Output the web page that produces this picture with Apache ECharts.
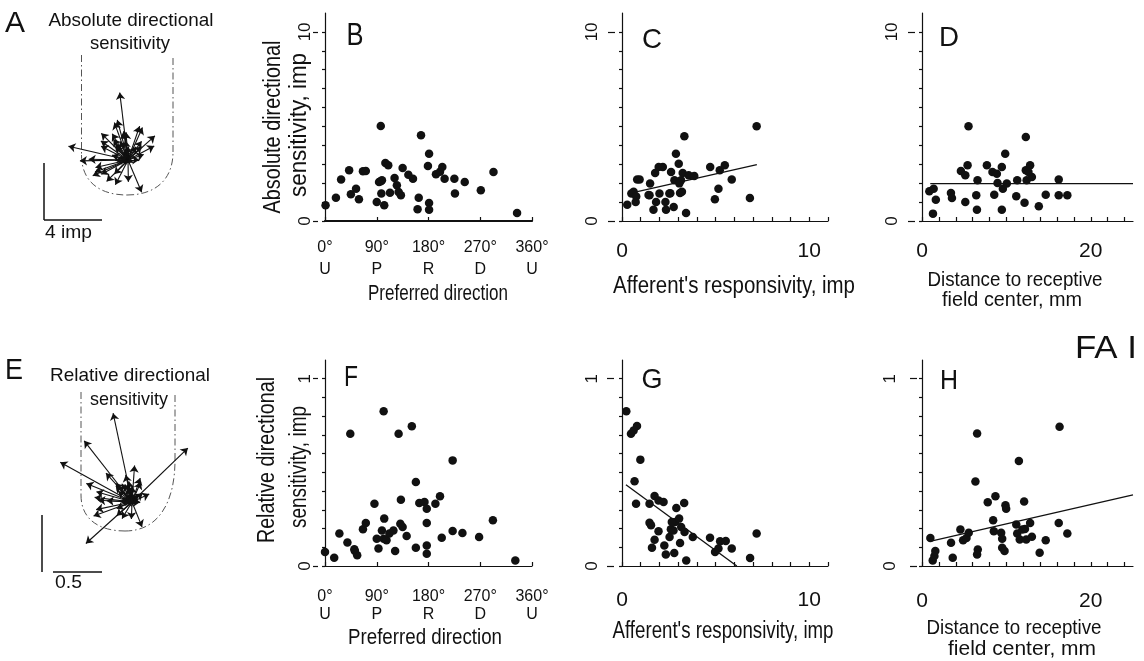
<!DOCTYPE html>
<html><head><meta charset="utf-8">
<script src="https://cdn.jsdelivr.net/npm/echarts@6/dist/echarts.min.js"></script>
<style>html,body{margin:0;padding:0;background:#fff}#c{width:1144px;height:661px}</style>
</head><body><div id="c"></div>
<script>
// ---------- data ----------
// B / A : preferred direction (deg) and absolute directional sensitivity (imp)
const bDir  = [1,19,28,42,45,54,59,66,71,90,94,97,97,98,99,103,105,110,113,121,125,128,132,135,145,153,161,163,167,179,181,181,181,193,200,204,208,225,226,243,271,293,334];
const bSens = [0.83,1.23,2.2,2.68,1.41,1.71,1.15,2.63,2.65,1.0,2.06,2.1,5.03,1.45,2.15,0.83,3.07,2.95,1.5,2.27,1.89,1.53,1.36,2.8,2.45,2.24,0.62,1.23,4.53,2.91,3.56,0.95,0.6,2.47,2.6,2.86,2.24,2.24,1.45,2.06,1.62,2.59,0.42];
// C : afferent's responsivity vs absolute directional sensitivity
const cResp = [0.28,0.5,0.73,0.81,0.94,1.5,1.47,1.68,1.77,1.96,2.0,1.82,2.35,2.32,2.53,2.62,2.76,2.88,3.03,3.1,3.15,3.33,3.42,3.24,3.56,3.86,4.71,4.96,5.15,5.22,5.49,5.86,6.83,7.19,2.8,2.18,0.62,0.76,1.42,2.58,3.06,3.2];
const cSens = [0.86,1.45,1.0,2.2,2.2,1.98,1.36,0.6,2.54,2.86,1.45,1.0,0.6,1.0,1.45,2.59,0.74,3.56,3.03,1.48,2.15,4.48,0.42,2.54,2.42,2.38,2.86,1.15,1.71,2.68,2.95,2.19,1.22,5.01,2.15,2.86,1.55,1.29,1.38,1.47,1.99,1.55];
const cFit  = [[0.35,1.45],[7.2,2.98]];
// D : distance to receptive field center vs absolute directional sensitivity
const dDist = [0.87,1.38,1.3,1.64,3.43,3.55,4.61,5.13,5.4,5.13,5.51,6.43,6.51,6.58,7.69,8.35,8.56,8.87,9.46,9.46,8.95,9.58,9.86,10.05,11.17,11.28,12.15,12.3,12.3,12.4,12.81,13.02,13.84,14.66,16.2,16.2,17.22,12.61];
const dSens = [1.57,1.71,0.39,1.13,1.48,1.22,2.65,2.42,2.95,1.0,5.01,1.36,0.6,2.15,2.95,2.59,1.39,2.5,2.86,0.6,2.01,1.71,3.56,1.98,1.31,2.15,0.97,4.44,2.68,2.15,2.95,2.33,0.78,1.39,2.2,1.36,1.36,2.59];
const dFit  = [[0.98,1.98],[25,1.98]];
// F / E : preferred direction vs relative directional sensitivity
const fDir  = [0,16,25,39,44,52,56,51,66,71,86,90,93,99,102,103,102,107,112,122,119,128,131,132,135,142,151,158,158,164,173,177,177,177,177,192,200,203,222,222,239,268,292,331];
const fSens = [0.075,0.044,0.173,0.125,0.706,0.08,0.057,0.089,0.196,0.23,0.333,0.146,0.093,0.19,0.826,0.253,0.146,0.137,0.173,0.08,0.19,0.706,0.226,0.354,0.208,0.16,0.746,0.448,0.098,0.336,0.342,0.306,0.23,0.11,0.066,0.333,0.372,0.151,0.564,0.187,0.176,0.155,0.244,0.03];
// G
const gResp = [0.23,0.48,0.8,0.62,0.98,0.67,0.75,1.47,1.74,1.95,2.22,1.47,1.55,1.95,1.74,1.6,2.34,2.79,2.26,2.54,2.61,2.84,2.9,3.05,3.16,3.1,3.32,3.34,3.43,3.78,4.7,4.97,5.15,5.24,5.54,5.86,6.84,7.19,2.75,2.66];
const gSens = [0.826,0.706,0.747,0.724,0.568,0.452,0.333,0.333,0.374,0.35,0.342,0.231,0.217,0.185,0.14,0.098,0.062,0.069,0.11,0.155,0.196,0.235,0.31,0.253,0.208,0.123,0.336,0.181,0.03,0.155,0.151,0.075,0.093,0.132,0.133,0.093,0.043,0.173,0.19,0.235];
const gFit  = [[0.21,0.434],[6.13,0]];
// H
const hDist = [0.99,1.27,1.47,1.58,3.44,3.64,4.55,4.87,5.27,5.54,6.33,6.53,6.61,6.53,7.79,8.7,8.43,8.51,9.38,9.5,9.5,9.78,9.89,9.97,11.17,11.28,11.48,11.58,12.1,12.2,12.35,12.81,13.02,13.94,14.66,16.2,16.3,17.22,11.89];
const hSens = [0.15,0.03,0.053,0.08,0.124,0.044,0.195,0.138,0.15,0.177,0.451,0.708,0.088,0.062,0.34,0.372,0.244,0.186,0.177,0.145,0.097,0.08,0.324,0.306,0.221,0.173,0.561,0.142,0.345,0.198,0.142,0.23,0.156,0.071,0.138,0.23,0.743,0.173,0.195];
const hFit  = [[1.07,0.133],[25,0.38]];
// ticks and tick labels
const topYTicks  = [0,1,2,3,4,5,6,7,8,9,10];
const topYLabels = [0,10];
const botYTicks  = [0,0.1,0.2,0.3,0.4,0.5,0.6,0.7,0.8,0.9,1.0];
const botYLabels = [0,1];
const dirTicks   = [0,90,180,270,360];
const dirDegLabels = ['0°','90°','180°','270°','360°'];
const dirLetters   = ['U','P','R','D','U'];
const respTicks  = [0,1,2,3,4,5,6,7,8,9,10,11];
const respLabels = [0,10];
const distTicks  = [0,2,4,6,8,10,12,14,16,18,20,22,24];
const distLabels = [0,20];

// ---------- chart ----------
const INK = '#111';
const SANS = '"Liberation Sans", Arial, sans-serif';
const NARROW = '"Liberation Sans Narrow", "Liberation Sans", Arial, sans-serif';

const grids = [
  {left:325, top:13,  width:207, height:208},  // B
  {left:622, top:13,  width:206, height:208},  // C
  {left:922, top:13,  width:211, height:208},  // D
  {left:325, top:360, width:207, height:206},  // F
  {left:622, top:360, width:206, height:206},  // G
  {left:922, top:360, width:211, height:206},  // H
  {left:47,  top:79,  width:162, height:162},  // A (vectors)
  {left:0,   top:370, width:264, height:264}   // E (vectors)
];

function xAx(gi, min, max, ticks, labels, fmt, o) {
  return {gridIndex:gi, type:'value', min, max, offset:o.offset,
    axisLine:{lineStyle:{color:INK, width:o.lw || 1.2}},
    axisTick:{inside:true, length:4, customValues:ticks, lineStyle:{color:INK, width:1.2}},
    axisLabel:{customValues:labels, formatter:fmt, margin:o.margin, fontSize:o.fs, lineHeight:o.lh || o.fs,
      fontFamily:NARROW, color:INK},
    splitLine:{show:false}};
}
function yAxPair(gi, max, ticks, labels, o) {
  return [
    {gridIndex:gi, type:'value', min:0, max, offset:o.offset, position:'left',
      axisLine:{lineStyle:{color:INK, width:1.2}},
      axisTick:{length:3, customValues:ticks, lineStyle:{color:INK, width:1.2}},
      axisLabel:{show:false}, splitLine:{show:false}},
    {gridIndex:gi, type:'value', min:0, max, offset:o.offset, position:'left',
      axisLine:{show:false},
      axisTick:{length:o.major || 6, customValues:labels, lineStyle:{color:INK, width:1.2}},
      axisLabel:{customValues:labels, rotate:90, margin:o.margin, fontSize:o.fs, fontFamily:NARROW, color:INK,
        formatter: v => String(Math.round(v))},
      splitLine:{show:false}}
  ];
}
const dirFmt = v => { const i = Math.round(v / 90); return dirDegLabels[i] + '\n' + dirLetters[i]; };
const numFmt = v => String(Math.round(v));

const xAxes = [
  xAx(0, 0, 360, dirTicks, dirTicks, dirFmt, {offset:6, margin:10, fs:16, lh:22, lw:2.2}),
  xAx(1, 0, 11, respTicks, respLabels, numFmt, {offset:7, margin:13, fs:21}),
  xAx(2, 0, 25, distTicks, distLabels, numFmt, {offset:7, margin:13, fs:21}),
  xAx(3, 0, 360, dirTicks, dirTicks, dirFmt, {offset:7, margin:15, fs:16, lh:18}),
  xAx(4, 0, 11, respTicks, respLabels, numFmt, {offset:7, margin:17, fs:21}),
  xAx(5, 0, 25, distTicks, distLabels, numFmt, {offset:8, margin:17, fs:21}),
  {gridIndex:6, type:'value', min:-6, max:6, show:false},
  {gridIndex:7, type:'value', min:-1.2, max:1.2, show:false}
];
const yAxes = [].concat(
  yAxPair(0, 11, topYTicks, topYLabels, {offset:7, margin:4, fs:17, major:5}),
  yAxPair(1, 11, topYTicks, topYLabels, {offset:7, margin:14, fs:17, major:7}),
  yAxPair(2, 11, topYTicks, topYLabels, {offset:7, margin:14, fs:17, major:7}),
  yAxPair(3, 1.1, botYTicks, botYLabels, {offset:7, margin:4, fs:17, major:5}),
  yAxPair(4, 1.1, botYTicks, botYLabels, {offset:8, margin:13, fs:17, major:7}),
  yAxPair(5, 1.1, botYTicks, botYLabels, {offset:5, margin:18, fs:17, major:7}),
  [{gridIndex:6, type:'value', min:-6, max:6, show:false},
   {gridIndex:7, type:'value', min:-1.2, max:1.2, show:false}]
);

const zip = (a, b) => a.map((v, i) => [v, b[i]]);
function scatter(gi, xs, ys) {
  return {type:'scatter', xAxisIndex:gi, yAxisIndex:gi * 2, data:zip(xs, ys), symbolSize:8.5,
    itemStyle:{color:INK, opacity:1}, silent:true, z:3};
}
function fit(gi, pts) {
  return {type:'line', xAxisIndex:gi, yAxisIndex:gi * 2, data:pts, showSymbol:false, symbol:'none',
    lineStyle:{color:INK, width:1.3}, silent:true, z:2};
}
function arrows(xi, yi, dirs, mags) {
  return {type:'lines', coordinateSystem:'cartesian2d', xAxisIndex:xi, yAxisIndex:yi,
    symbol:['none','arrow'], symbolSize:7, clip:false, silent:true,
    lineStyle:{color:INK, width:1.1, opacity:1, curveness:0},
    data: dirs.map((d, i) => {
      const r = mags[i], t = d * Math.PI / 180;
      return {coords:[[0, 0], [r * Math.cos(t), r * Math.sin(t)]]};
    })};
}

// text helper: fit to measured width via scaleX
const mctx = document.createElement('canvas').getContext('2d');
function txt(s, cx, cy, size, w, rot) {
  let sx = 1;
  if (w) { mctx.font = size + 'px "Liberation Sans", Arial'; sx = w / mctx.measureText(s).width; }
  return {type:'text', x:cx, y:cy, rotation:rot || 0, scaleX:sx, silent:true,
    style:{text:s, fontSize:size, fontFamily:SANS, fill:INK, align:'center', verticalAlign:'middle'}};
}
const R = Math.PI / 2;
const texts = [
  txt('A', 15, 24, 30, 20),
  txt('Absolute directional', 131, 21, 19, 165),
  txt('sensitivity', 130, 44, 19, 80),
  txt('4 imp', 68.5, 233, 19, 47),
  txt('B', 355, 36.5, 32, 17),
  txt('C', 652, 40, 28, 20),
  txt('D', 949, 38, 28, 20),
  txt('Absolute directional', 274, 127, 23, 173, R),
  txt('sensitivity, imp', 300, 125, 23, 144, R),
  txt('Preferred direction', 438, 294, 22, 140),
  txt("Afferent's responsivity, imp", 734, 287, 23, 242),
  txt('Distance to receptive', 1015, 280, 21, 175),
  txt('field center, mm', 1012, 300, 21, 140),
  txt('E', 14, 371, 30, 18),
  txt('Relative directional', 130, 376, 19, 160),
  txt('sensitivity', 129, 400, 19, 78),
  txt('0.5', 68.5, 583.5, 18, 27),
  txt('F', 351, 377.5, 30, 14),
  txt('Relative directional', 268, 460, 23, 166, R),
  txt('sensitivity, imp', 300, 467, 23, 122, R),
  txt('Preferred direction', 425, 638, 22, 154),
  txt('G', 652, 380, 28, 21),
  txt("Afferent's responsivity, imp", 723, 632, 23, 221),
  txt('H', 949, 381, 28, 18),
  txt('FA I', 1106, 349, 32, 62),
  txt('Distance to receptive', 1014, 628, 21, 175),
  txt('field center, mm', 1022, 649, 21, 148)
];
const outlineStyle = {stroke:'#555', fill:null, lineWidth:1, lineDash:[7,3,1.5,3]};
const ln = (x1, y1, x2, y2, st) => ({type:'line', silent:true, shape:{x1, y1, x2, y2}, style:st});
const bz = (x1, y1, c1x, c1y, c2x, c2y, x2, y2) => ({type:'bezierCurve', silent:true,
  shape:{x1, y1, cpx1:c1x, cpy1:c1y, cpx2:c2x, cpy2:c2y, x2, y2}, style:outlineStyle});
const barStyle = {stroke:INK, lineWidth:1.5};
const decor = [
  // A finger outline
  ln(81.5, 55, 81.5, 155, outlineStyle),
  bz(81.5, 155, 81.5, 182, 100, 195, 127, 195),
  bz(127, 195, 155, 195, 173, 180, 173, 152),
  ln(173, 152, 173, 58, outlineStyle),
  // E finger outline
  ln(81, 392, 81, 495, outlineStyle),
  bz(81, 495, 81, 520, 100, 531, 125, 531),
  bz(125, 531, 160, 531, 175, 500, 175, 460),
  ln(175, 460, 175, 395, outlineStyle),
  // scale bars
  ln(44, 163, 44, 220, barStyle),
  ln(44, 220, 102, 220, barStyle),
  ln(42, 515, 42, 572, barStyle),
  ln(53, 572, 102, 572, barStyle)
];

const chart = echarts.init(document.getElementById('c'), null, {renderer:'canvas'});
chart.setOption({
  animation:false,
  backgroundColor:'#fff',
  textStyle:{fontFamily:SANS},
  grid:grids,
  xAxis:xAxes,
  yAxis:yAxes,
  series:[
    scatter(0, bDir, bSens),
    scatter(1, cResp, cSens), fit(1, cFit),
    scatter(2, dDist, dSens), fit(2, dFit),
    scatter(3, fDir, fSens),
    scatter(4, gResp, gSens), fit(4, gFit),
    scatter(5, hDist, hSens), fit(5, hFit),
    arrows(6, 12, bDir, bSens),
    arrows(7, 13, fDir, fSens)
  ],
  graphic:{elements: decor.concat(texts)}
});
</script>
</body></html>
